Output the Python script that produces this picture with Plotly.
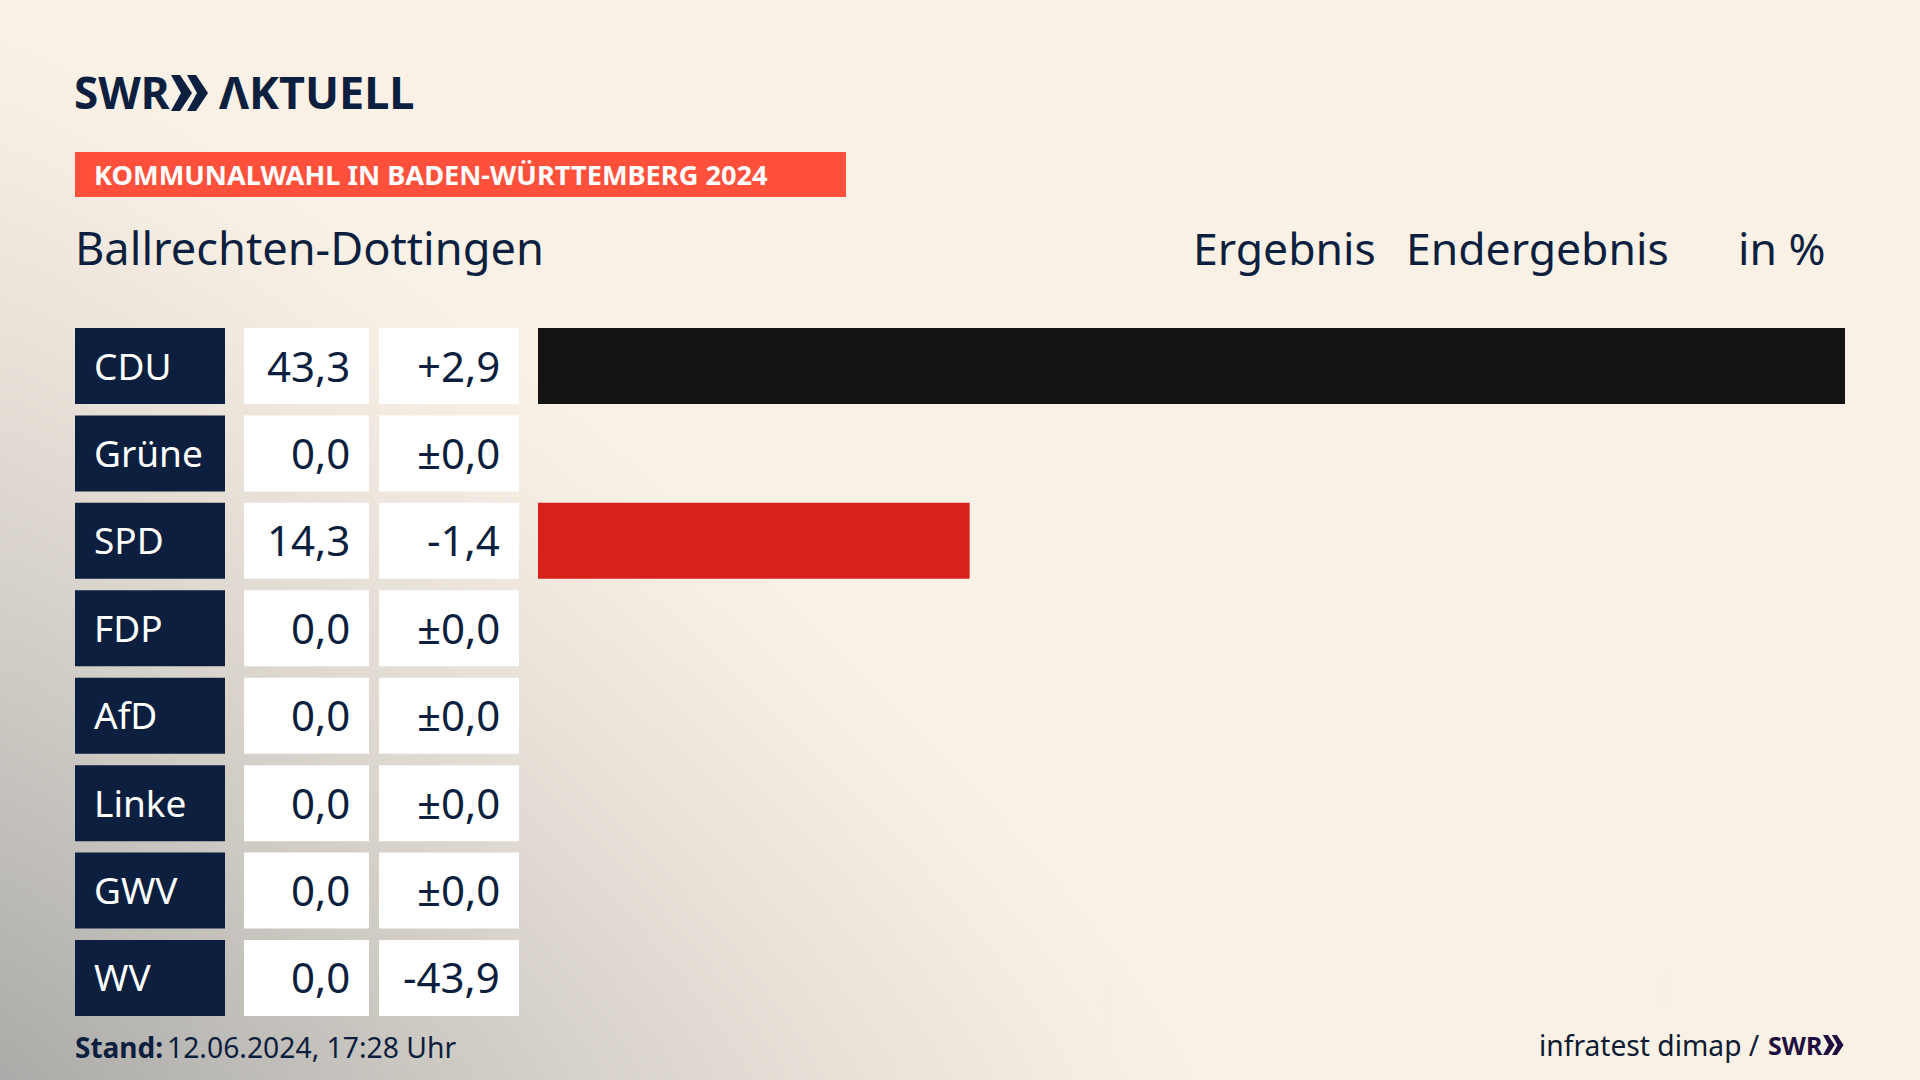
import base64, io, struct, zlib
import numpy as np
import plotly.graph_objects as go

parties = ["CDU", "Grüne", "SPD", "FDP", "AfD", "Linke", "GWV", "WV"]
shares = [43.3, 0.0, 14.3, 0.0, 0.0, 0.0, 0.0, 0.0]
share_labels = ["43,3", "0,0", "14,3", "0,0", "0,0", "0,0", "0,0", "0,0"]
delta_labels = ["+2,9", "±0,0", "-1,4", "±0,0", "±0,0", "±0,0", "±0,0", "-43,9"]
bar_colors = ["#131313", "#131313", "#D8201C", "#131313", "#131313", "#131313", "#131313", "#131313"]

W, H = 1920, 1080
NAVY = "#0C1F3E"
FONT = "Noto Sans"


def png_uri(rgb):
    h, w, _ = rgb.shape
    raw = b"".join(b"\x00" + rgb[i].tobytes() for i in range(h))
    def chunk(t, d):
        return struct.pack(">I", len(d)) + t + d + struct.pack(">I", zlib.crc32(t + d) & 0xffffffff)
    data = (b"\x89PNG\r\n\x1a\n" + chunk(b"IHDR", struct.pack(">IIBBBBB", w, h, 8, 2, 0, 0, 0))
            + chunk(b"IDAT", zlib.compress(raw, 9)) + chunk(b"IEND", b""))
    return "data:image/png;base64," + base64.b64encode(data).decode()


def background():
    w, h = 960, 540
    u, v = np.meshgrid((np.arange(w) + .5) / w, (np.arange(h) + .5) / h)
    d = ((u / .635) ** 1.2 + ((1 - v) / .98) ** 1.2) ** (1 / 1.2)
    t = np.clip(1 - d, 0, 1) ** 1.25
    x, y = u * W, v * H
    t = t + .04 * np.exp(-((x - 1107) / 4) ** 2 - ((y - 1000) / 25) ** 2)
    t = t + .015 * np.exp(-((x - 1665) / 8) ** 2 - ((y - 990) / 22) ** 2)
    t = np.clip(t, 0, 1)[..., None]
    cream = np.array([250, 241, 230.])
    gray = np.array([170, 170, 168.])
    return (cream * (1 - t) + gray * t + .5).astype(np.uint8)


def px(x):
    return x / W


def py(y):
    return 1 - y / H


def chevrons(x, y, h, color):
    s = h / 36
    out = []
    for dx in (0, 16 * s):
        p = [(0, 0), (9, 0), (21, 18), (9, 36), (0, 36), (10, 18)]
        pts = [(px(x + dx + a * s), py(y + b * s)) for a, b in p]
        d = "M" + "L".join(f"{a:.5f},{b:.5f}" for a, b in pts) + "Z"
        out.append(dict(type="path", xref="paper", yref="paper", path=d, fillcolor=color,
                        line=dict(width=0), layer="above"))
    return out


fig = go.Figure()
fig.add_bar(x=shares, y=parties, orientation="h", marker=dict(color=bar_colors, line_width=0),
            xaxis="x", yaxis="y", hoverinfo="skip")
for ax, col in (("x2", NAVY), ("x3", "#FFFFFF"), ("x4", "#FFFFFF")):
    fig.add_bar(x=[1] * len(parties), y=parties, orientation="h",
                marker=dict(color=col, line_width=0), xaxis=ax, yaxis="y", hoverinfo="skip")


def note(text, x, y, size, color=NAVY, anchor="left", family=FONT, yref="paper", yshift=0):
    return dict(text=text, x=x, y=y, xref="paper", yref=yref, xanchor=anchor, yanchor="middle",
                showarrow=False, font=dict(family=family, size=size, color=color), borderpad=0,
                borderwidth=0, yshift=yshift)


ann = []
for p, s, dl in zip(parties, share_labels, delta_labels):
    ann.append(note(p, px(94), p, 37, "#FFFFFF", yref="y", yshift=1))
    ann.append(note(s, px(350), p, 42, anchor="right", yref="y", yshift=1))
    ann.append(note(dl, px(500), p, 42, anchor="right", yref="y", yshift=1))

ann += [
    note("<b>SWR</b>", px(74), py(92), 44),
    note("<b>ΛKTUELL</b>", px(219), py(92), 45),
    note("<b>KOMMUNALWAHL IN BADEN-WÜRTTEMBERG 2024</b>", px(94), py(175), 27.2, "#FFFFFF"),
    note("Ballrechten-Dottingen", px(75), py(247), 45.2),
    note("Ergebnis", px(1193), py(247), 44.5),
    note("Endergebnis", px(1406), py(247), 44.5),
    note("in %", px(1738), py(247), 44.5),
    note("<b>Stand:</b>", px(75), py(1047), 28),
    note("12.06.2024, 17:28 Uhr", px(167), py(1047), 28.3),
    note("infratest dimap /", px(1539), py(1045), 28.2, "#0E1B33"),
    note("<b>SWR</b>", px(1768), py(1045), 25, "#1E0F40"),
]

shapes = [dict(type="rect", xref="paper", yref="paper", x0=px(75), x1=px(846), y0=py(197), y1=py(152),
               fillcolor="#FF503C", line=dict(width=0), layer="below")]
shapes += chevrons(171, 75, 36, NAVY)
shapes += chevrons(1823, 1035, 20, "#1E0F40")

hidden = dict(visible=False, fixedrange=True)
fig.update_layout(
    width=W, height=H, autosize=False,
    margin=dict(l=0, r=0, t=0, b=0, pad=0),
    paper_bgcolor="#FAF1E6", plot_bgcolor="rgba(0,0,0,0)",
    showlegend=False, bargap=.1307, barmode="overlay",
    xaxis=dict(domain=[px(538), px(1845)], range=[0, 43.3], **hidden),
    xaxis2=dict(domain=[px(75), px(225)], range=[0, 1], anchor="y", **hidden),
    xaxis3=dict(domain=[px(244), px(369)], range=[0, 1], anchor="y", **hidden),
    xaxis4=dict(domain=[px(379), px(519)], range=[0, 1], anchor="y", **hidden),
    yaxis=dict(domain=[py(1021.7), py(322.3)], categoryorder="array", categoryarray=parties,
               autorange="reversed", **hidden),
    annotations=ann, shapes=shapes,
    images=[dict(source=png_uri(background()), xref="paper", yref="paper", x=0, y=1, sizex=1, sizey=1,
                 sizing="stretch", xanchor="left", yanchor="top", layer="below")],
)
fig.write_html("out.html", config=dict(displayModeBar=False),
               post_script="document.body.style.margin='0';document.body.style.overflow='hidden';")
